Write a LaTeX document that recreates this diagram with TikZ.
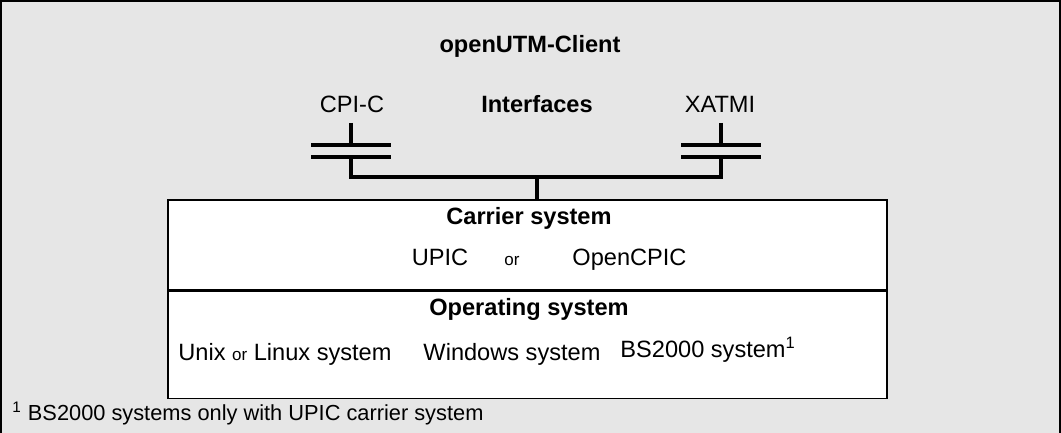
\documentclass[tikz,border=0pt]{standalone}
\usepackage{fontspec}
\setmainfont{Liberation Sans}
\usetikzlibrary{positioning}
\definecolor{panelgray}{HTML}{E6E6E6}
\tikzset{label text/.style={font=\fontsize{11.8}{14}\selectfont,inner sep=0pt,anchor=base},
	head text/.style={font=\fontsize{11.8}{14}\selectfont\bfseries,inner sep=0pt,anchor=base},
	small text/.style={font=\fontsize{8.5}{10}\selectfont,inner sep=0pt,anchor=base},
	foot text/.style={font=\fontsize{10.9}{12}\selectfont,inner sep=0pt,anchor=base west},
	layer box/.style={draw,fill=white,line width=0.7pt,minimum width=359.5pt,inner sep=0pt},
	plate/.style={line width=2pt},
	wire/.style={line width=1.6pt}}

\begin{document}
\begin{tikzpicture}
	[x=0.5pt,y=-0.5pt]
	\useasboundingbox (0,0) rectangle (1061,433);
	\fill[panelgray] (0,0) rectangle (1061,433);
	\draw[line width=1pt] (1,433) -- (1,1) -- (1060,1) -- (1060,433);
	\node [head text] (client) at (530,53) {openUTM-Client};
	\node [label text] (cpic) at (352,113) {CPI-C};
	\node [head text] (iface) at (537,113) {Interfaces};
	\node [label text] (xatmi) at (720,113) {XATMI};
	\node [layer box,minimum height=45pt] (carrier) at (527.5,245) {};
	\node [layer box,minimum height=53.5pt,below=0pt of carrier] (opsys) {};
	\foreach \x/\n in {351/cpiplug,721/xatplug} {
		\draw[plate] (\x,123) -- (\x,145);
		\draw[plate] (\x-40,145) -- (\x+40,145);
		\draw[plate] (\x-40,157) -- (\x+40,157);
		\coordinate (\n) at (\x,156);
	}
	\coordinate (joint) at (537,177);
	\draw[wire] (cpiplug) -- (cpiplug |- joint) -- (xatplug |- joint) -- (xatplug);
	\draw[wire] (joint) -- (joint |- carrier.north);
	\node [head text] (carriername) at (529,225) {Carrier system};
	\node [label text] (upic) at (440,265) {UPIC};
	\node [small text] (orword) at (512,265) {or};
	\node [label text,anchor=base west] (opencpic) at (572,265) {OpenCPIC};
	\node [head text] (osname) at (529,315) {Operating system};
	\node [label text,anchor=base west] (unix) at (178,360) {Unix {\fontsize{8.5}{10}\selectfont or} Linux system};
	\node [label text] (windows) at (512,360) {Windows system};
	\node [label text,anchor=base west] (bs) at (620,357) {BS2000 system\textsuperscript{1}};
	\node [foot text] (note) at (12,420) {\textsuperscript{1} BS2000 systems only with UPIC carrier system};
\end{tikzpicture}
\end{document}
